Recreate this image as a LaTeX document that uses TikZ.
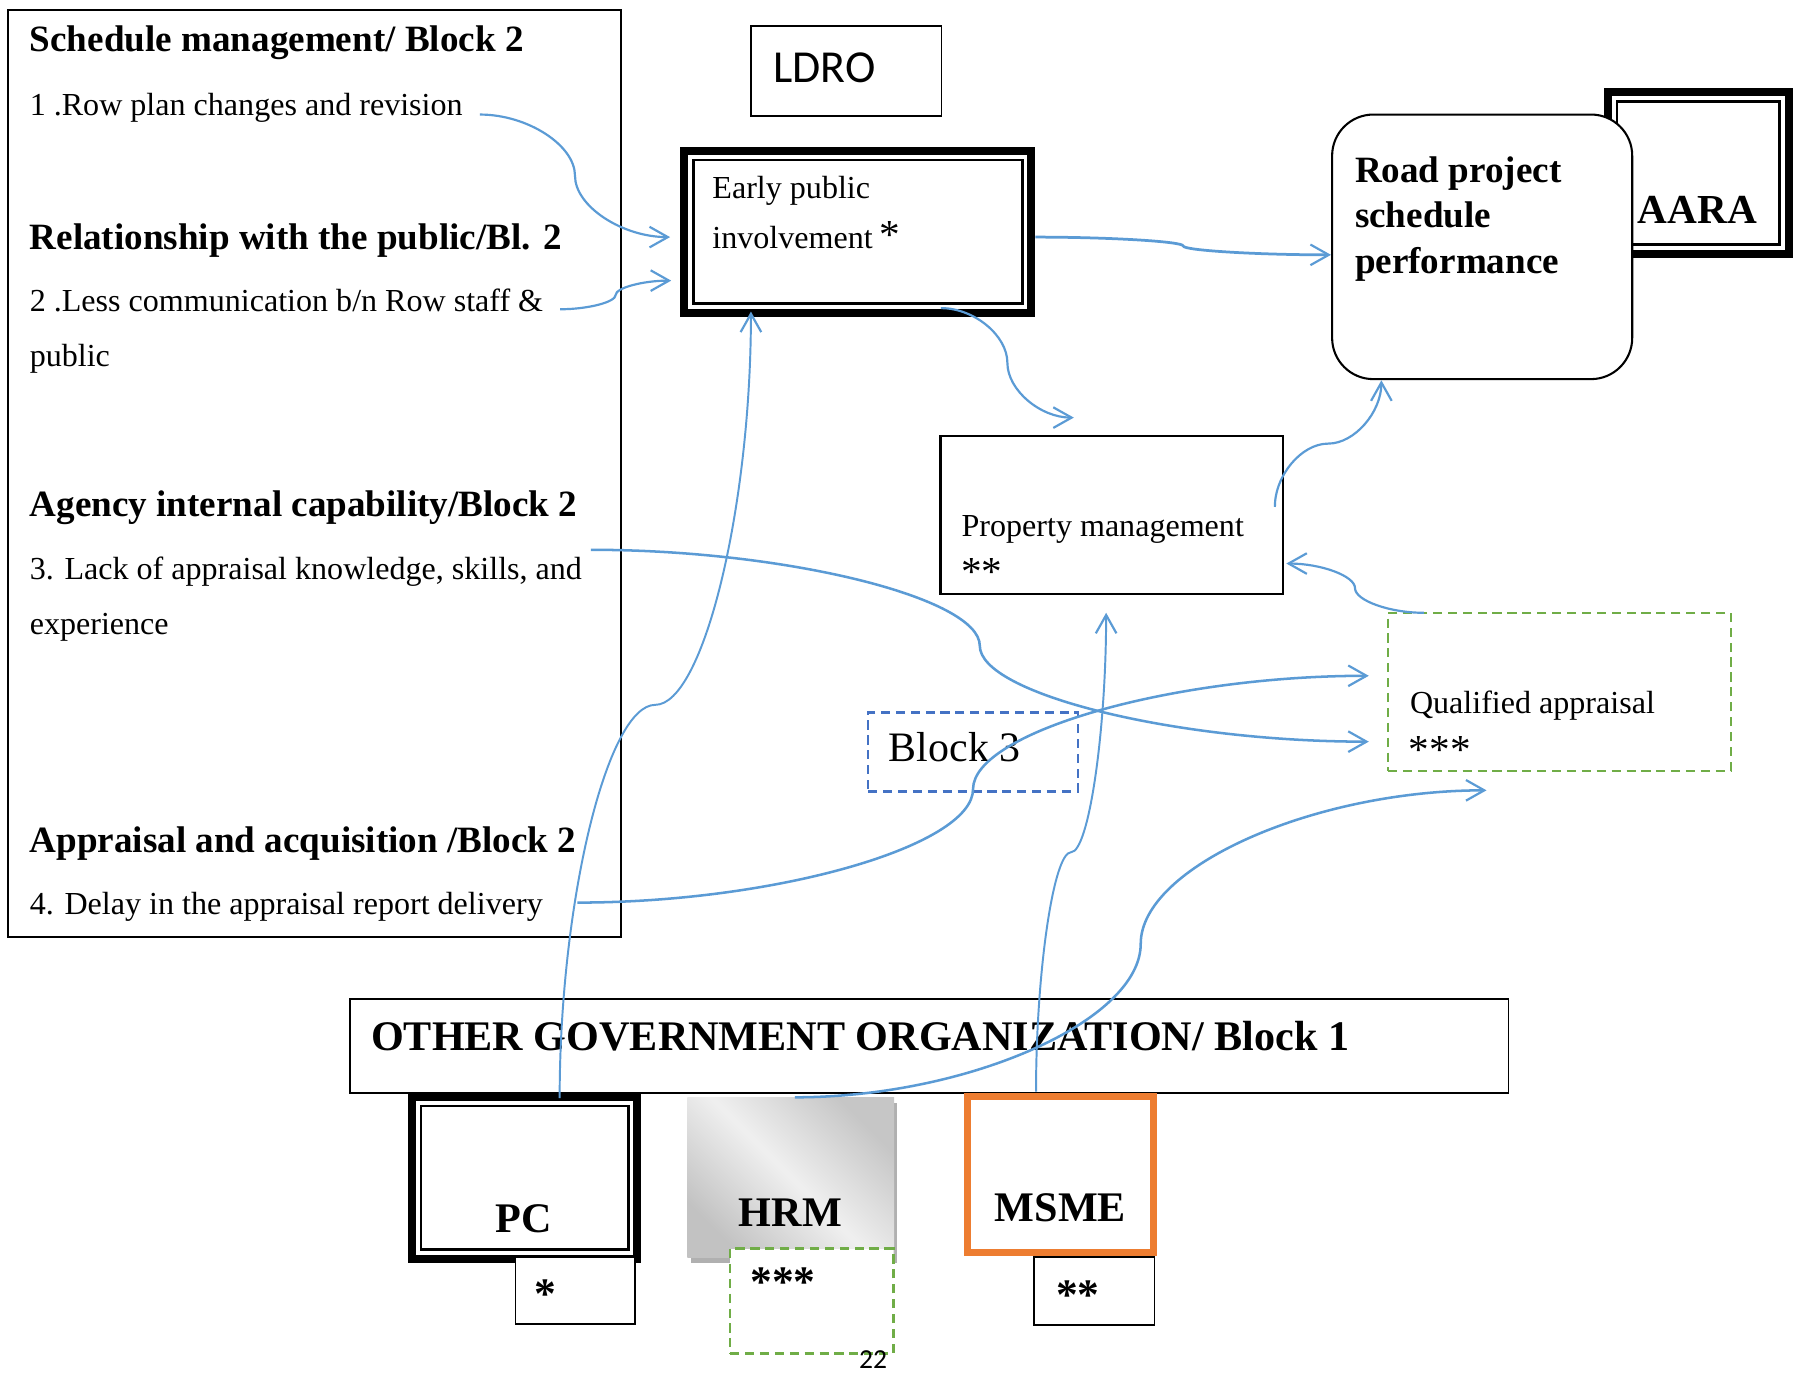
\documentclass[tikz,border=0pt]{standalone}
\usepackage{fontspec}
\setmainfont{Liberation Serif}
\newfontfamily\calibrifont{Carlito}
\usetikzlibrary{arrows.meta,calc}

\definecolor{linkblue}{HTML}{5B9BD5}
\definecolor{blockblue}{HTML}{4472C4}
\definecolor{apgreen}{HTML}{70AD47}
\definecolor{msorange}{HTML}{ED7D31}

\tikzset{
  box/.style={draw=black, line width=0.75pt, fill=white, inner sep=0pt, outer sep=0pt},
  heavybox/.style={box, line width=3.5pt},
  dashbox/.style={box, line width=1pt, dash pattern=on 4pt off 2.5pt},
  txt/.style={anchor=base west, inner sep=0pt, outer sep=0pt, font=\fontsize{14}{16}\selectfont},
  headtxt/.style={txt, font=\fontsize{16.2}{19}\selectfont\bfseries},
  bigtxt/.style={txt, font=\fontsize{18.4}{22}\selectfont\bfseries},
  startxt/.style={txt, font=\fontsize{19}{22}\selectfont\bfseries},
  markstxt/.style={txt, font=\fontsize{18}{20}\selectfont},
  arrowlink/.style={draw=linkblue, line width=0.95pt,
    -{Straight Barb[length=8pt,width=9pt,line width=0.95pt]}},
  % curved connector: leaves and enters horizontally, vertical at its midpoint
  hcurve/.style={to path={let \p1=(\tikztostart), \p2=(\tikztotarget) in
     .. controls ({0.75*\x1+0.25*\x2},\y1) and ({0.5*\x1+0.5*\x2},{0.75*\y1+0.25*\y2})
     .. ({0.5*\x1+0.5*\x2},{0.5*\y1+0.5*\y2})
     .. controls ({0.5*\x1+0.5*\x2},{0.25*\y1+0.75*\y2}) and ({0.25*\x1+0.75*\x2},\y2)
     .. (\tikztotarget)}},
  % curved connector: leaves and enters vertically, horizontal at its midpoint
  vcurve/.style={to path={let \p1=(\tikztostart), \p2=(\tikztotarget) in
     .. controls (\x1,{0.75*\y1+0.25*\y2}) and ({0.75*\x1+0.25*\x2},{0.5*\y1+0.5*\y2})
     .. ({0.5*\x1+0.5*\x2},{0.5*\y1+0.5*\y2})
     .. controls ({0.25*\x1+0.75*\x2},{0.5*\y1+0.5*\y2}) and (\x2,{0.25*\y1+0.75*\y2})
     .. (\tikztotarget)}},
}

\begin{document}
\begin{tikzpicture}[x=0.5pt,y=-0.5pt]
\useasboundingbox (0,0) rectangle (1568,1198);
\fill[white] (0,0) rectangle (1568,1198);

% ---------- left panel: Block 2 issues ----------
\node[box, minimum width=267.5pt, minimum height=404.5pt] (leftpanel) at (274.5,413.5) {};
\node[headtxt] (h1) at (26,45) {Schedule management/ Block 2};
\node[txt] (t1) at (26,101) {1 .Row plan changes and revision};
\node[headtxt] (h2) at (26,218) {Relationship with the public/Bl. 2};
\node[txt] (t2a) at (26,272) {2 .Less communication b/n Row staff \&};
\node[txt] (t2b) at (26,320) {public};
\node[headtxt] (h3) at (26,451) {Agency internal capability/Block 2};
\node[txt] (t3a) at (26,506) {3. Lack of appraisal knowledge, skills, and};
\node[txt] (t3b) at (26,554) {experience};
\node[headtxt] (h4) at (26,744) {Appraisal and acquisition /Block 2};
\node[txt] (t4) at (26,798) {4. Delay in the appraisal report delivery};

% ---------- LDRO ----------
\node[box, minimum width=83.25pt, minimum height=39pt] (ldro) at (738.75,62) {};
\node[txt, font=\calibrifont\fontsize{20}{24}\selectfont] (ldrotxt) at (675,72) {LDRO};

% ---------- early public involvement ----------
\node[heavybox, minimum width=151.5pt, minimum height=70.75pt] (early) at (749,202.25) {};
\draw[line width=1.1pt] ([shift={(8,8)}]early.north west) rectangle ([shift={(-8,-8)}]early.south east);
\node[txt] (earlya) at (622,173) {Early public};
\node[txt] (earlyb) at (622,217) {involvement};
\node[markstxt] (earlystar) at (768,217) {*};

% ---------- AARA and road project schedule performance ----------
\node[heavybox, minimum width=79pt, minimum height=70.5pt] (aara) at (1482.5,151) {};
\draw[line width=1.1pt] ([shift={(8,8)}]aara.north west) rectangle ([shift={(-8,-8)}]aara.south east);
\node[txt, font=\fontsize{18}{22}\selectfont\bfseries] (aaratxt) at (1430,195) {AARA};

\node[box, line width=0.9pt, rounded corners=18pt, minimum width=131pt, minimum height=115.5pt] (road) at (1294,215.5) {};
\node[headtxt] (roada) at (1183,159) {Road project};
\node[headtxt] (roadb) at (1183,199) {schedule};
\node[headtxt] (roadc) at (1183,238.5) {performance};

% ---------- property management ----------
\node[box, line width=1pt, minimum width=149.5pt, minimum height=69pt] (pm) at (970.5,449.6) {};
\node[txt] (pma) at (839.5,468.5) {Property management};
\node[markstxt] (pmb) at (839,511) {**};

% ---------- qualified appraisal ----------
\node[dashbox, draw=apgreen, minimum width=149.5pt, minimum height=69pt] (qa) at (1361.5,604) {};
\node[txt] (qaa) at (1231,622.6) {Qualified appraisal};
\node[markstxt] (qab) at (1230,667) {***};

% ---------- Block 3 ----------
\node[dashbox, draw=blockblue, minimum width=91.5pt, minimum height=34.5pt] (blk) at (849.5,656.5) {};
\node[txt, font=\fontsize{18.3}{22}\selectfont] (blktxt) at (776,665) {Block 3};

% ---------- Block 1: other government organizations ----------
\node[box, minimum width=505.7pt, minimum height=41pt] (ogo) at (811.3,913) {};
\node[bigtxt] (ogotxt) at (324,917) {OTHER GOVERNMENT ORGANIZATION/ Block 1};

\node[heavybox, minimum width=98.5pt, minimum height=70.75pt] (pc) at (458,1028.25) {};
\draw[line width=1.1pt] ([shift={(8,8)}]pc.north west) rectangle ([shift={(-8,-8)}]pc.south east);
\node[bigtxt] (pctxt) at (433,1075.7) {PC};
\node[box, minimum width=52.3pt, minimum height=29.2pt] (pcstar) at (502.3,1126.8) {};
\node[startxt] (pcstartxt) at (467,1142) {*};

\fill[gray!62] (603,963) rectangle (783.5,1102.6);
\node[draw=none, inner sep=0pt, outer sep=0pt, minimum width=90.35pt, minimum height=69.8pt,
      top color=gray!45, bottom color=gray!48, middle color=gray!12, shading angle=-45] (hrm) at (690.35,1027.8) {};
\node[bigtxt] (hrmtxt) at (645,1070.5) {HRM};
\node[dashbox, draw=apgreen, minimum width=71.25pt, minimum height=45.8pt] (hrmstar) at (708.75,1135.8) {};
\node[startxt] (hrmstartxt) at (655,1132) {***};

\node[box, draw=msorange, line width=3pt, minimum width=81pt, minimum height=68.35pt] (msme) at (926,1025.35) {};
\node[bigtxt] (msmetxt) at (868.5,1066.6) {MSME};
\node[box, minimum width=52.5pt, minimum height=29.7pt] (msmestar) at (955.5,1127.3) {};
\node[startxt] (msmestartxt) at (922,1143) {**};

\node[txt, font=\calibrifont\fontsize{12}{14}\selectfont] (pageno) at (750,1195) {22};

% ---------- connectors ----------
\coordinate (r1) at (419,100);
\coordinate (r2) at (489,270);
\coordinate (r3) at (515.8,480);
\coordinate (r4) at (504,788);

\draw[arrowlink] (r1) to[hcurve] ([shift={(-12.5,4.75)}]early.west);
\draw[arrowlink] (r2) to[hcurve] ([shift={(-11.5,42.75)}]early.west);
\draw[arrowlink, line width=1.2pt] ([shift={(3.5,4.75)}]early.east) to[hcurve] ([shift={(-1,7)}]road.west);
\draw[arrowlink] ([shift={(72.5,-4)}]early.south) to[hcurve] ([shift={(-33,-16)}]pm.north);
\draw[arrowlink] ([shift={(-7,-7)}]pm.east) to[vcurve] ([shift={(-88,1)}]road.south);
\draw[arrowlink] ([shift={(31,0)}]qa.north west) to[hcurve] ([shift={(3,42.4)}]pm.east);
\draw[arrowlink, line width=1.1pt] (r3) to[hcurve] ([shift={(-17,43.5)}]qa.west);
\draw[arrowlink, line width=1.1pt] (r4) to[hcurve] ([shift={(-17,-14)}]qa.west);
\draw[arrowlink, line width=0.85pt] ([shift={(30.6,1.2)}]pc.north) to[vcurve] ([shift={(-93.4,-1)}]early.south);
\draw[arrowlink, line width=0.85pt] ([shift={(-21.5,-4)}]msme.north) to[vcurve] ([shift={(-4.8,16.4)}]pm.south);
\draw[arrowlink, line width=1.1pt] ([shift={(3.65,0)}]hrm.north) to[hcurve] ([shift={(-63.7,17)}]qa.south);
\end{tikzpicture}
\end{document}
